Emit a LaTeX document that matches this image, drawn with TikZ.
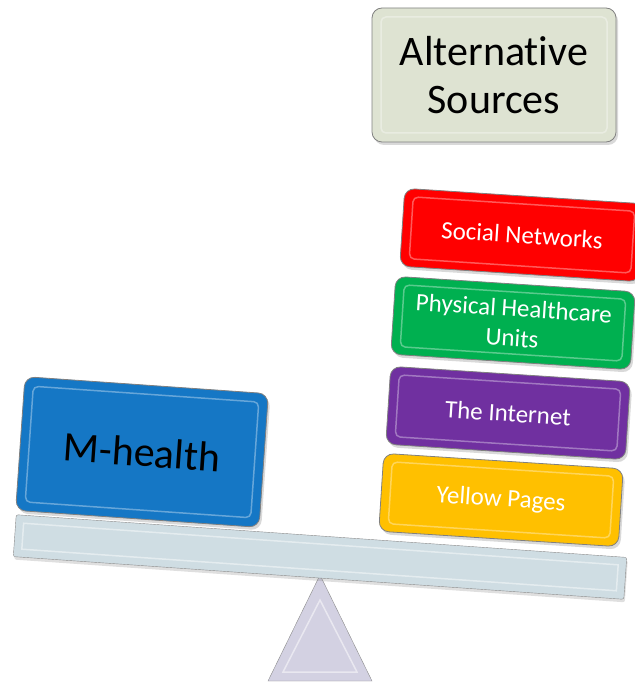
\documentclass[tikz,border=0pt]{standalone}
\usepackage{fontspec}
\setmainfont[Ligatures=NoCommon]{Carlito}
\usetikzlibrary{shadows, calc}

\definecolor{mblue}{HTML}{1577C5}
\definecolor{sred}{HTML}{FF0000}
\definecolor{sgreen}{HTML}{00B050}
\definecolor{spurple}{HTML}{7030A0}
\definecolor{syellow}{HTML}{FFC000}
\definecolor{altgrey}{HTML}{DEE3D2}
\definecolor{beamgrey}{HTML}{CFDDE3}
\definecolor{fulcgrey}{HTML}{D3D1E2}

\begin{document}
\begin{tikzpicture}[x=1pt, y=-1pt,
            block_style/.style={rectangle, rounded corners=10pt, draw=black!50, thick, align=center, drop shadow={opacity=0.3, shadow xshift=2pt, shadow yshift=-3pt}},
            source/.style={block_style, minimum width=240pt, minimum height=78pt, rotate=-3.7, text=white, font=\fontsize{25}{30}\selectfont},
            weight/.style={block_style, minimum width=244pt, minimum height=134pt, font=\fontsize{42}{48}\selectfont},
            bevel_src/.style={rectangle, rounded corners=5pt, draw=white, opacity=0.35, line width=1.5pt, minimum width=222pt, minimum height=62pt, rotate=-3.7},
            bevel_big/.style={rectangle, rounded corners=5pt, draw=white, opacity=0.35, line width=1.5pt, minimum width=226pt, minimum height=116pt},
            beam_style/.style={rectangle, rounded corners=2pt, draw=black!45, fill=beamgrey, minimum width=612pt, minimum height=42pt, rotate=-4, drop shadow={opacity=0.25, shadow xshift=1pt, shadow yshift=-3pt}}
        ]
            \useasboundingbox (0,0) rectangle (634,684);

% Fulcrum and beam
            \draw[draw=black!45, fill=fulcgrey] (320,575) -- (372,681) -- (268,681) -- cycle;
            \draw[white, opacity=0.5, line width=1.5pt] (320,600) -- (357,672) -- (283,672) -- cycle;
            \node[beam_style] (beam) at (320,557) {};
            \node[rectangle, draw=white, opacity=0.45, line width=1.5pt, minimum width=596pt, minimum height=26pt, rotate=-4] at (beam.center) {};

% Weights on the balance
            \node[weight, fill=mblue, rotate=-4] (mhealth) at (142,452) {M-health};
            \node[bevel_big, rotate=-4] at (mhealth.center) {};

            \node[source, fill=syellow] (yellow) at (501,500) {Yellow Pages};
            \node[source, fill=spurple] (internet) at (508,413) {The Internet};
            \node[source, fill=sgreen] (physical) at (513,323) {Physical Healthcare\\Units};
            \node[source, fill=sred] (social) at (522,235) {Social Networks};
            \foreach \n in {yellow, internet, physical, social}
                \node[bevel_src] at (\n.center) {};

% Title box
            \node[weight, fill=altgrey] (alt) at (494,75) {Alternative\\Sources};
            \node[bevel_big] at (alt.center) {};

        \end{tikzpicture}
\end{document}
